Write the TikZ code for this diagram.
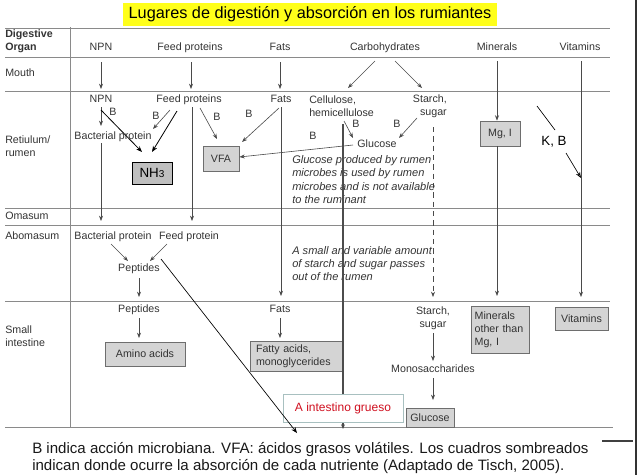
\documentclass[tikz,border=0pt]{standalone}
\usepackage{fontspec}
\setmainfont{Liberation Sans}
\usetikzlibrary{arrows.meta,calc}
\definecolor{txt}{HTML}{333333}
\definecolor{ln}{HTML}{8A8A8A}
\definecolor{ar}{HTML}{4A4A4A}
\definecolor{boxf}{HTML}{D4D4D4}
\definecolor{boxd}{HTML}{6E6E6E}
\definecolor{ttl}{HTML}{FFFF1A}
\definecolor{redt}{HTML}{D01020}
\definecolor{igb}{HTML}{A8C0C0}
\tikzset{
 lbl/.style={font=\fontsize{8}{9.75}\selectfont, text=txt, inner sep=0pt, text height=6pt, text depth=1.7pt},
 ml/.style={font=\fontsize{8}{9.75}\selectfont, text=txt, inner sep=0pt},
 itx/.style={font=\fontsize{8.3}{10}\selectfont\itshape, text=txt, inner sep=0pt, align=left, anchor=west},
 gar/.style={draw=ar, line width=0.45pt, -{Stealth[length=4pt,width=3pt]}},
 bar/.style={draw=black, line width=0.6pt, -{Stealth[length=4.5pt,width=3.5pt]}},
 gbox/.style={draw=boxd, fill=boxf, line width=0.6pt, inner sep=0pt, font=\fontsize{8}{9.75}\selectfont, text=txt},
 rowl/.style={draw=ln, line width=0.6pt},
}
\begin{document}
\begin{tikzpicture}[x=0.75pt,y=-0.75pt]
\useasboundingbox (0,0) rectangle (639,475);

% title
\node[fill=ttl, minimum width=280.5pt, minimum height=17.25pt, inner sep=0pt,
  font=\fontsize{12.2}{14}\selectfont] (title) at (310,14.5)
  {Lugares de digestión y absorción en los rumiantes};

% table grid
\foreach \y in {28,57,91,208,225,301} \draw[rowl] (5,\y) -- (610,\y);
\draw[rowl] (5,427) -- (613,427);
\draw[rowl] (70,27) -- (70,427);
\draw[black!80, line width=0.8pt] (636,0) -- (636,475);
\draw[black!75, line width=1pt] (602,441) -- (633,441);

% organ labels
\node[ml, anchor=west, align=left, font=\fontsize{8}{9.75}\selectfont\bfseries] (org) at (5,41.5) {Digestive\\Organ};
\node[lbl, anchor=west] (mouth) at (5,74) {Mouth};
\node[ml, anchor=west, align=left] (rum) at (5,146.5) {Retiulum/\\rumen};
\node[lbl, anchor=west] (omas) at (5,217) {Omasum};
\node[lbl, anchor=west] (abom) at (5,237) {Abomasum};
\node[ml, anchor=west, align=left] (smi) at (5,336.5) {Small\\intestine};

% column headers
\node[lbl] (hnpn) at (101,48) {NPN};
\node[lbl] (hfp) at (190,48) {Feed proteins};
\node[lbl] (hfat) at (280,48) {Fats};
\node[lbl] (hcarb) at (385,48) {Carbohydrates};
\node[lbl] (hmin) at (497,48) {Minerals};
\node[lbl] (hvit) at (580,48) {Vitamins};

% mouth arrows
\coordinate (m1s) at (101,62); \coordinate (m1e) at (101,89);
\coordinate (m2s) at (191,62); \coordinate (m2e) at (191,89);
\coordinate (m3s) at (280,62); \coordinate (m3e) at (280,89);
\coordinate (m4s) at (375,61); \coordinate (m4e) at (348,88);
\coordinate (m5s) at (395,61); \coordinate (m5e) at (422,88);
\draw[gar] (m1s) -- (m1e);
\draw[gar] (m2s) -- (m2e);
\draw[gar] (m3s) -- (m3e);
\draw[gar] (m4s) -- (m4e);
\draw[gar] (m5s) -- (m5e);

% rumen labels
\node[lbl] (rnpn) at (101,100) {NPN};
\node[lbl] (rfp) at (189,100) {Feed proteins};
\node[lbl] (rfat) at (281,100) {Fats};
\node[ml, anchor=west, align=left] (cell) at (309,106.5) {Cellulose,\\hemicellulose};
\node[ml, anchor=east, align=right] (starch) at (447,106.5) {Starch,\\sugar};
\node[lbl] (bacp) at (113,137) {Bacterial protein};
\node[lbl] (gluc) at (377,145) {Glucose};
\node[lbl] (b1) at (113,113) {B};
\node[lbl] (b2) at (156,117) {B};
\node[lbl] (b3) at (217,118) {B};
\node[lbl] (b4) at (249,115) {B};
\node[lbl] (b5) at (313,137) {B};
\node[lbl] (b6) at (356,125) {B};
\node[lbl] (b7) at (397,125) {B};

% boxes in rumen
\node[gbox, minimum width=27pt, minimum height=18.75pt] (vfa) at (221,158.5) {VFA};
\node[draw=black, fill=black!25, line width=0.6pt, inner sep=0pt, minimum width=30pt, minimum height=16.5pt,
  font=\fontsize{10}{12}\selectfont] (nh3) at (152,173) {NH{\fontsize{7.5}{9}\selectfont 3}};
\node[gbox, minimum width=30pt, minimum height=18.75pt] (mgi) at (500,133.5) {Mg, I};

% rumen arrows
\coordinate (r1s) at (101,107); \coordinate (r1e) at (101,126);
\draw[gar] (r1s) -- (r1e);
\coordinate (k1s) at (101,110); \coordinate (k1e) at (142,152);
\draw[bar] (k1s) -- (k1e);
\coordinate (r2s) at (170,110); \coordinate (r2e) at (153,129);
\draw[gar] (r2s) -- (r2e);
\coordinate (k2s) at (177,111); \coordinate (k2e) at (152,152);
\draw[bar] (k2s) -- (k2e);
\coordinate (r3s) at (200,108); \coordinate (r3e) at (217,139);
\draw[gar] (r3s) -- (r3e);
\coordinate (r4s) at (279,108); \coordinate (r4e) at (242,142);
\draw[gar] (r4s) -- (r4e);
\coordinate (r5s) at (344,121); \coordinate (r5e) at (353,138);
\draw[gar] (r5s) -- (r5e);
\coordinate (r6s) at (417,118); \coordinate (r6e) at (399,138);
\draw[gar] (r6s) -- (r6e);
\coordinate (gvs) at (353,145);
\draw[gar] (gvs) -- (vfa.east |- 0,157);

% long verticals
\coordinate (v1s) at (101,143); \coordinate (v1e) at (101,221);
\draw[gar] (v1s) -- (v1e);
\coordinate (v2s) at (192,107); \coordinate (v2e) at (192,221);
\draw[gar] (v2s) -- (v2e);
\coordinate (v3s) at (281,107); \coordinate (v3e) at (281,296);
\draw[gar] (v3s) -- (v3e);
\coordinate (v4s) at (433,127); \coordinate (v4e) at (433,297);
\draw[gar, dash pattern=on 4pt off 3pt] (v4s) -- (v4e);
\coordinate (v5s) at (497,61);
\draw[gar] (v5s) -- (mgi.north -| v5s);
\coordinate (v6e) at (497,296);
\draw[gar] (mgi.south -| v6e) -- (v6e);
\coordinate (v7s) at (581,61); \coordinate (v7e) at (581,297);
\draw[gar] (v7s) -- (v7e);

% K, B
\node[inner sep=0pt, font=\fontsize{10}{12}\selectfont] (kb) at (554,142) {K, B};
\coordinate (kbs) at (537,106); \coordinate (kbm) at (555,130);
\draw[black, line width=0.5pt] (kbs) -- (kbm);
\coordinate (kbe) at (581,178); \coordinate (kbf) at (566,153);
\draw[black, line width=0.5pt, -{Stealth[length=4.5pt,width=3.5pt,open]}] (kbf) -- (kbe);

% italic notes
\node[itx] (note1) at (292,179.5) {Glucose produced by rumen\\microbes is used by rumen\\microbes and is not available\\to the ruminant};
\node[itx] (note2) at (292,263.7) {A small and variable amount\\of starch and sugar passes\\out of the rumen};

% abomasum
\node[lbl] (bacp2) at (113,237) {Bacterial protein};
\node[lbl] (fp2) at (189,237) {Feed protein};
\node[lbl] (pep1) at (139,269) {Peptides};
\coordinate (a1s) at (111,244); \coordinate (a1e) at (128,261);
\draw[gar] (a1s) -- (a1e);
\coordinate (a2s) at (167,244); \coordinate (a2e) at (150,261);
\draw[gar] (a2s) -- (a2e);
\coordinate (a3s) at (139,278); \coordinate (a3e) at (139,297);
\draw[gar] (a3s) -- (a3e);

% small intestine
\node[lbl] (pep2) at (139,310) {Peptides};
\node[gbox, minimum width=60pt, minimum height=18pt] (amino) at (145,354) {Amino acids};
\coordinate (s1s) at (139,318); \coordinate (s1e) at (139,338);
\draw[gar] (s1s) -- (s1e);
\node[lbl] (fat2) at (280,310) {Fats};
\node[gbox, minimum height=22.5pt, text width=60pt, inner xsep=4.5pt, align=left] (fatty) at (296,356) {Fatty acids,\\monoglycerides};
\coordinate (s2s) at (280,318); \coordinate (s2e) at (280,338);
\draw[gar] (s2s) -- (s2e);
\node[ml, align=center] (starch2) at (433,318.5) {Starch,\\sugar};
\node[lbl] (mono) at (433,370) {Monosaccharides};
\node[gbox, minimum width=36pt, minimum height=14.25pt] (gbox1) at (430,417.5) {Glucose};
\coordinate (s3s) at (433,333); \coordinate (s3e) at (433,361);
\draw[gar] (s3s) -- (s3e);
\coordinate (s4s) at (433,378); \coordinate (s4e) at (433,400);
\draw[gar] (s4s) -- (s4e);
\node[gbox, minimum width=43.5pt, minimum height=35.25pt, text width=38pt, inner xsep=2.75pt, align=left] (minb) at (500,329.5) {Minerals\\other than\\Mg, I};
\node[gbox, minimum width=39.75pt, minimum height=17.25pt] (vitb) at (581.5,318.5) {Vitamins};

% thick dark line to large intestine
\coordinate (d1s) at (343,124); \coordinate (d1e) at (343,429);
\draw[draw=black!70, line width=1.1pt, -{Stealth[length=3.5pt,width=3pt]}] (d1s) -- (d1e);

% large intestine box
\node[draw=igb, fill=white, line width=0.6pt, minimum width=90pt, minimum height=21pt, inner sep=0pt,
  text=redt, font=\fontsize{9}{11}\selectfont] (ig) at (343,408) {A intestino grueso};

% long black arrow
\coordinate (lbs) at (161,259); \coordinate (lbe) at (297,433);
\draw[bar, line width=0.5pt] (lbs) -- (lbe);

% caption
\node[inner sep=0pt, anchor=west, align=left, font=\fontsize{11.3}{12.2}\selectfont, text=black!90] (cap) at (32,458)
 {B indica acción microbiana. VFA: ácidos grasos volátiles. Los cuadros sombreados\\indican donde ocurre la absorción de cada nutriente (Adaptado de Tisch, 2005).};
\end{tikzpicture}
\end{document}
